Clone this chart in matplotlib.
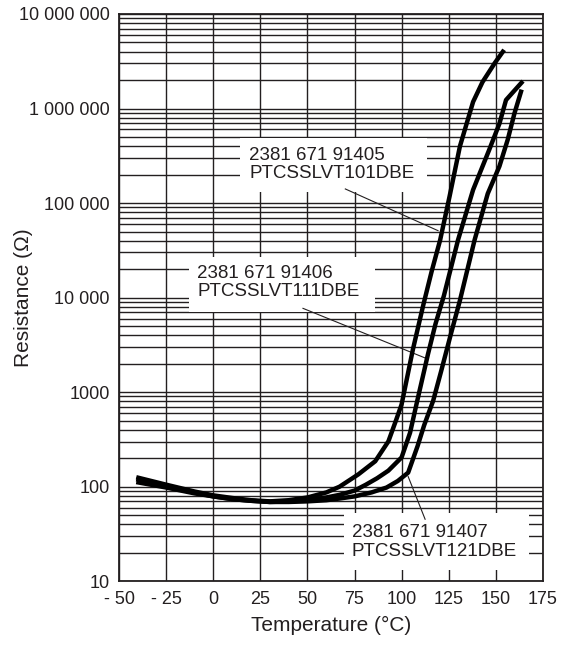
import matplotlib
matplotlib.use('Agg')
import matplotlib.pyplot as plt
from matplotlib.patches import Rectangle
from matplotlib.ticker import LogLocator, NullFormatter

plt.rcParams['font.family'] = ['Liberation Sans', 'DejaVu Sans']

# --- data (T in degC, R in ohm) ---
temp_101 = [-41, -25, -10, 0, 10, 20, 30, 40, 50, 60, 67, 77, 86, 93, 97, 100,
            106, 111.5, 116, 120.5, 125.5, 131, 138, 143, 149.5, 154.5]
res_101 = [126, 105, 89, 81, 76, 72, 70, 72, 77, 87, 100, 135, 186, 302, 501, 741,
           2820, 8300, 19000, 40700, 117500, 398000, 1175000, 1905000, 3020000, 4170000]

temp_111 = [-41, -25, -10, 0, 10, 20, 30, 40, 50, 60, 67, 75, 81, 87, 93, 100,
            104.5, 108, 114, 118, 122.5, 130, 138, 146.5, 152, 155.5, 160, 164.5]
res_111 = [120, 102, 87, 79, 74, 71, 69, 70, 72, 77, 82, 91, 105, 123, 148, 204,
           372, 759, 2510, 5250, 10500, 40700, 138000, 363000, 692000, 1230000, 1550000, 1950000]

temp_121 = [-41, -25, -10, 0, 10, 20, 30, 40, 50, 60, 67, 75, 84, 92, 98, 103.5,
            108.5, 112, 116.8, 121, 126, 131, 138.8, 145.8, 152, 156.4, 160, 163.8]
res_121 = [112, 98, 85, 79, 74, 71, 69, 69, 70, 72, 75, 79, 87, 98, 115, 141,
           269, 447, 813, 1660, 3980, 9330, 40700, 126000, 245000, 468000, 891000, 1585000]

labels = ['2381 671 91405\nPTCSSLVT101DBE',
          '2381 671 91406\nPTCSSLVT111DBE',
          '2381 671 91407\nPTCSSLVT121DBE']

x_ticks = [-50, -25, 0, 25, 50, 75, 100, 125, 150, 175]
x_ticklabels = ['- 50', '- 25', '0', '25', '50', '75', '100', '125', '150', '175']
y_ticks = [10, 100, 1000, 1e4, 1e5, 1e6, 1e7]
y_ticklabels = ['10', '100', '1000', '10 000', '100 000', '1 000 000', '10 000 000']

ink = '#231f20'

fig = plt.figure(figsize=(5.69, 6.58), dpi=100)
ax = fig.add_axes([0.2097, 0.1166, 0.7441, 0.8622])

ax.set_yscale('log')
ax.set_xlim(-50, 175)
ax.set_ylim(10, 1e7)
ax.set_xticks(x_ticks)
ax.set_xticklabels(x_ticklabels)
ax.set_yticks(y_ticks)
ax.set_yticklabels(y_ticklabels)
ax.yaxis.set_minor_locator(LogLocator(base=10, subs=range(2, 10), numticks=20))
ax.yaxis.set_minor_formatter(NullFormatter())
ax.tick_params(which='both', length=0, pad=7, labelsize=13, colors=ink)

ax.set_axisbelow(True)
ax.grid(which='major', color=ink, lw=1.0)
ax.grid(which='minor', axis='y', color=ink, lw=1.0)
for s in ax.spines.values():
    s.set_linewidth(1.3)
    s.set_color(ink)

# curves
ax.plot(temp_101, res_101, color='black', lw=3.2, solid_capstyle='butt', zorder=5)
ax.plot(temp_111, res_111, color='black', lw=3.2, solid_capstyle='butt', zorder=5)
ax.plot(temp_121, res_121, color='black', lw=3.2, solid_capstyle='butt', zorder=5)

# white label boxes (axes fraction) + text
boxes = [(0.285, 0.686, 0.442, 0.095),
         (0.165, 0.475, 0.439, 0.097),
         (0.531, 0.020, 0.437, 0.100)]
text_pos = [(0.307, 0.735), (0.184, 0.527), (0.549, 0.069)]
for (bx, by, bw, bh), (tx, ty), lab in zip(boxes, text_pos, labels):
    ax.add_patch(Rectangle((bx, by), bw, bh, transform=ax.transAxes,
                           facecolor='white', edgecolor='none', zorder=1))
    ax.text(tx, ty, lab, transform=ax.transAxes, ha='left', va='center',
            fontsize=13.5, color=ink, linespacing=1.1, zorder=3)

# leader lines
ax.plot([70.1, 119.4], [1.41e5, 5.1e4], color=ink, lw=0.8, zorder=4)
ax.plot([47.6, 112.5], [7.7e3, 2.3e3], color=ink, lw=0.8, zorder=4)
ax.plot([112.5, 103.5], [45.3, 128], color=ink, lw=0.8, zorder=4)

ax.set_xlabel('Temperature (°C)', fontsize=15, color=ink, labelpad=6)
ax.set_ylabel('Resistance (Ω)', fontsize=15, color=ink)
ax.yaxis.set_label_coords(-0.205, 0.5)

fig.savefig('out.png', dpi=100)
